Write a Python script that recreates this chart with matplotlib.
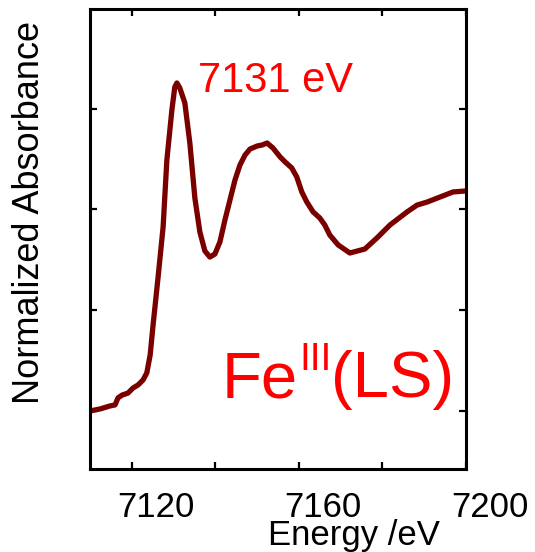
import matplotlib
matplotlib.use("Agg")
import matplotlib.pyplot as plt
from matplotlib.transforms import ScaledTranslation

plt.rcParams['font.family'] = ['Liberation Sans', 'DejaVu Sans']

# Data (energy in eV, normalized absorbance)
energy = [7110.0, 7112.4, 7114.8, 7116.0, 7116.7, 7117.7, 7119.1, 7120.3, 7121.5,
          7122.7, 7123.6, 7124.4, 7125.1, 7125.6, 7126.3, 7127.5, 7128.4, 7129.6,
          7130.3, 7130.8, 7131.5, 7132.7, 7133.9, 7135.1, 7136.3, 7137.5, 7138.7,
          7139.9, 7141.1, 7142.3, 7143.5, 7144.7, 7145.9, 7147.1, 7148.3, 7150.0,
          7151.2, 7152.4, 7153.8, 7155.5, 7156.7, 7158.3, 7159.5, 7160.7, 7161.9,
          7163.4, 7165.0, 7166.2, 7167.4, 7169.4, 7172.2, 7175.8, 7178.7, 7181.8,
          7185.9, 7188.3, 7190.7, 7193.8, 7196.9, 7200.0]
absorbance = [0.000, 0.010, 0.025, 0.030, 0.065, 0.079, 0.089, 0.114, 0.129,
              0.154, 0.189, 0.278, 0.427, 0.526, 0.665, 0.913, 1.246, 1.494,
              1.608, 1.628, 1.603, 1.529, 1.330, 1.057, 0.888, 0.794, 0.764,
              0.779, 0.839, 0.948, 1.047, 1.146, 1.221, 1.270, 1.300, 1.315,
              1.320, 1.330, 1.305, 1.261, 1.236, 1.206, 1.161, 1.087, 1.037,
              0.988, 0.958, 0.923, 0.873, 0.824, 0.784, 0.804, 0.859, 0.923,
              0.988, 1.022, 1.037, 1.062, 1.087, 1.092]

xtick_marks = [7120, 7140, 7160, 7180, 7200]
xtick_label_pos = [7120, 7160, 7200]
xtick_labels = ['7120', '7160', '7200']
ytick_marks = [0.0, 0.5, 1.0, 1.5]

W, H, DPI = 535, 552, 100
fig = plt.figure(figsize=(W / DPI, H / DPI), dpi=DPI)
ax = fig.add_axes([90 / W, 1 - 469 / H, (466 - 90) / W, (469 - 9) / H])

ax.plot(energy, absorbance, color='#7a0000', lw=3.8, solid_joinstyle='round',
        solid_capstyle='round')

ax.set_xlim(7110, 7200)
ax.set_ylim(-0.288, 1.995)

ax.set_xticks(xtick_marks)
ax.set_xticklabels([])
ax.set_yticks(ytick_marks)
ax.set_yticklabels([])
ax.tick_params(direction='in', length=5, width=1.6, top=True, right=True,
               color='black')
for s in ax.spines.values():
    s.set_linewidth(2.2)

# tick labels (drawn offset to the right like in the reference)
off = ScaledTranslation(24 / DPI, 0, fig.dpi_scale_trans)
for xv, lab in zip(xtick_label_pos, xtick_labels):
    ax.text(xv, (469 - 517) / 460, lab, transform=ax.get_xaxis_transform() + off,
            ha='center', va='baseline', fontsize=25, clip_on=False)

fig.text(354 / W, (552 - 545) / H, 'Energy /eV', ha='center', va='baseline',
         fontsize=25)
fig.text(30 / W, (552 - 212) / H, 'Normalized Absorbance', rotation=90,
         ha='center', va='center', fontsize=26)

ax.text(7135.85, 1.583, '7131 eV', color='#ff0000', fontsize=30,
        ha='left', va='baseline')

# Fe^III(LS) label built from three pieces
fig.canvas.draw()
r = fig.canvas.get_renderer()
t1 = ax.text(7141.6, 0.069, 'Fe', color='#ff0000', fontsize=47,
             ha='left', va='baseline')
bb = t1.get_window_extent(r)
inv = ax.transData.inverted()
x2 = inv.transform((bb.x1 + 1, 0))[0]
t2 = ax.text(x2, 0.069 + 27 / 201.5, 'III', color='#ff0000', fontsize=28,
             ha='left', va='baseline')
bb2 = t2.get_window_extent(r)
x3 = inv.transform((bb2.x1, 0))[0]
ax.text(x3, 0.069, '(LS)', color='#ff0000', fontsize=47, ha='left', va='baseline')

fig.savefig('out.png', dpi=DPI)
